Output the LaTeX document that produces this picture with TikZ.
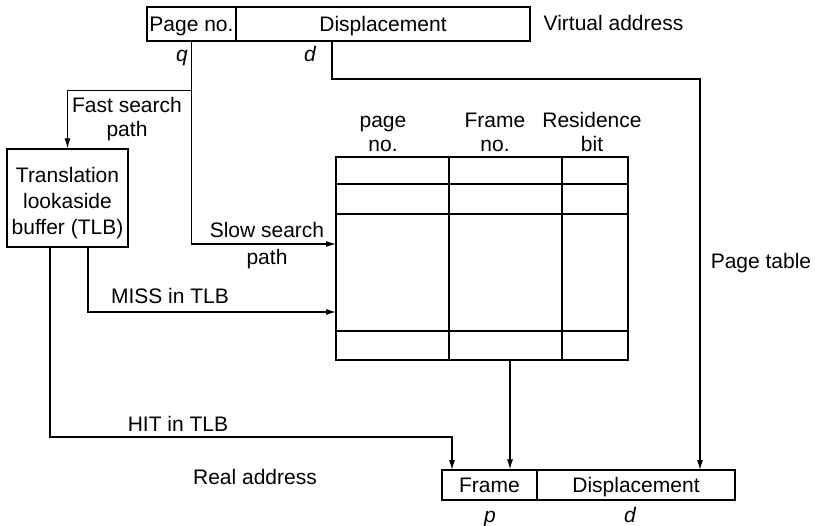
\documentclass[tikz,border=0pt]{standalone}
\usepackage{fontspec}
\setmainfont{Liberation Sans}
\usetikzlibrary{arrows.meta,calc}
\begin{document}
\begin{tikzpicture}[x=1pt,y=-1pt,
  every node/.style={font=\fontsize{21}{25}\selectfont, inner sep=0pt},
  t1/.style={text height=15pt, text depth=0pt},
  box/.style={draw, line width=1.1pt, rectangle, text height=15pt, text depth=0pt},
  ln/.style={line width=1.1pt},
  arr/.style={line width=1.1pt, -{Latex[length=10pt,width=6pt]}}]
\useasboundingbox (0,0) rectangle (815,526);
% virtual address
\node[box, minimum width=89pt, minimum height=34pt] (pg) at (191.5,24) {Page no.};
\node[box, minimum width=294pt, minimum height=34pt] (disp) at (383,24) {Displacement};
\node[t1] (q) at (182,54.5) {\itshape q};
\node[t1] (dd) at (310,54.5) {\itshape d};
\node[t1] (va) at (613.5,23) {Virtual address};
% TLB
\node[draw, line width=1.1pt, minimum width=121pt, minimum height=98pt] (tlb) at (67.5,198) {};
\node[t1] (tl1) at (67.5,175.5) {Translation};
\node[t1] (tl2) at (67.5,201.5) {lookaside};
\node[t1] (tl3) at (67.5,227.5) {buffer (TLB)};
% page table
\node[draw, line width=1.1pt, minimum width=292pt, minimum height=203pt] (tab) at (482,258.5) {};
\draw[ln] (tab.west |- 0,184) -- (tab.east |- 0,184);
\draw[ln] (tab.west |- 0,214) -- (tab.east |- 0,214);
\draw[ln] (tab.west |- 0,331) -- (tab.east |- 0,331);
\draw[ln] (449,0 |- tab.north) -- (449,0 |- tab.south);
\draw[ln] (562,0 |- tab.north) -- (562,0 |- tab.south);
\node[t1] (h1a) at (383,120) {page};
\node[t1] (h1b) at (383,144.5) {no.};
\node[t1] (h2a) at (495,120) {Frame};
\node[t1] (h2b) at (495,144.5) {no.};
\node[t1] (h3a) at (592,120) {Residence};
\node[t1] (h3b) at (592,144.5) {bit};
\node[t1] (pt) at (761,261) {Page table};
% real address
\node[box, minimum width=95pt, minimum height=30pt] (fr) at (489.5,485) {Frame};
\node[box, minimum width=198pt, minimum height=30pt] (disp2) at (636,485) {Displacement};
\node[t1] (p) at (490,515.5) {\itshape p};
\node[t1] (d2) at (630,515.5) {\itshape d};
\node[t1] (ra) at (255,477) {Real address};
% labels
\node[t1] (fast1) at (127,105) {Fast search};
\node[t1] (fast2) at (127,129.5) {path};
\node[t1] (slow1) at (267,230) {Slow search};
\node[t1] (slow2) at (267,257) {path};
\node[t1] (miss) at (170,296.5) {MISS in TLB};
\node[t1] (hit) at (178,424) {HIT in TLB};
% coordinates
\coordinate (slowin) at (336,244);
\coordinate (missout) at (88,247);
\coordinate (missin) at (336,312);
\coordinate (hitout) at (50,247);
\coordinate (hitin) at (452,470);
\coordinate (tabout) at (510,360);
\coordinate (dout) at (332,41);
\coordinate (din) at (700,470);
% connectors
\draw[arr] (pg.south) -- ++(0,49) -| (tlb.north);
\draw[arr] (pg.south) |- (slowin);
\draw[arr] (missout) |- (missin);
\draw[arr] (hitout) -- ($(hitout)+(0,190)$) -| (hitin);
\draw[arr] (tabout) -- (tabout |- fr.north);
\draw[arr] (dout) -- ($(dout)+(0,38)$) -| (din);
\end{tikzpicture}
\end{document}
